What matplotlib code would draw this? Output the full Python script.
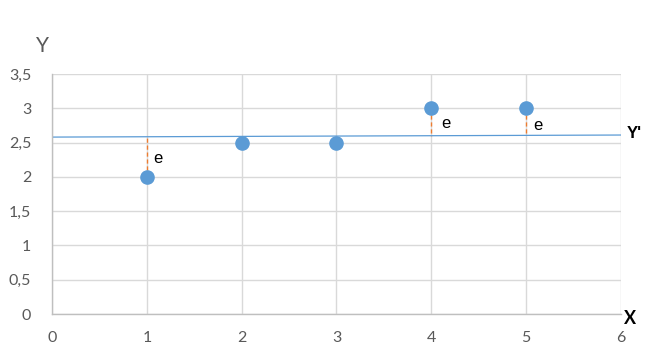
import numpy as np
import matplotlib.pyplot as plt
from matplotlib.ticker import FuncFormatter

# dati
x = [1, 2, 3, 4, 5]
y = [2.0, 2.5, 2.5, 3.0, 3.0]
# retta Y' (quasi piatta)
line_x = [0, 6]
line_y = [2.58, 2.61]
# posizioni delle etichette "e"
e_x = [1.12, 4.15, 5.12]
e_y = [2.27, 2.78, 2.75]
e_idx = [0, 3, 4]

plt.rcParams['font.family'] = ['Lato', 'DejaVu Sans']

fig = plt.figure(figsize=(6.45, 3.63), dpi=100)
ax = fig.add_axes([52/645, 49/363, 569/645, 240/363])

ax.set_xlim(0, 6)
ax.set_ylim(0, 3.5)
ax.set_xticks(np.arange(0, 7, 1))
ax.set_yticks(np.arange(0, 4, 0.5))
ax.yaxis.set_major_formatter(FuncFormatter(lambda v, p: ('%g' % v).replace('.', ',')))
ax.grid(True, color='#d9d9d9', lw=1)
ax.set_axisbelow(True)
for s in ['top', 'right']:
    ax.spines[s].set_visible(False)
for s in ['left', 'bottom']:
    ax.spines[s].set_color('#bfbfbf')
    ax.spines[s].set_linewidth(1)
ax.tick_params(length=0, labelsize=11.5, colors='#595959', pad=15)
ax.tick_params(axis='x', pad=12)

ax.plot(line_x, line_y, color='#5b9bd5', lw=0.9, zorder=2)

# tratti degli errori
slope = (line_y[1] - line_y[0]) / (line_x[1] - line_x[0])
for i in e_idx:
    yl = line_y[0] + slope * x[i]
    ax.plot([x[i], x[i]], [y[i], yl], color='#ed7d31', lw=1, ls=(0, (3, 2)), zorder=3)

ax.scatter(x, y, s=90, color='#5b9bd5', zorder=4, clip_on=False)

for ex, ey in zip(e_x, e_y):
    ax.text(ex, ey, 'e', fontsize=12, color='black', ha='center', va='center',
            family='Liberation Sans')

fig.text(42/645, 1 - 46/363, 'Y', fontsize=15, color='#595959', ha='center', va='center')
fig.text(630/645, 1 - 318/363, 'X', fontsize=13, fontweight='bold', color='black', ha='center', va='center')
fig.text(634/645, 1 - 133/363, "Y'", fontsize=12, fontweight='bold', color='black', ha='center', va='center',
         family='Liberation Sans')

fig.savefig('out.png', dpi=100)
